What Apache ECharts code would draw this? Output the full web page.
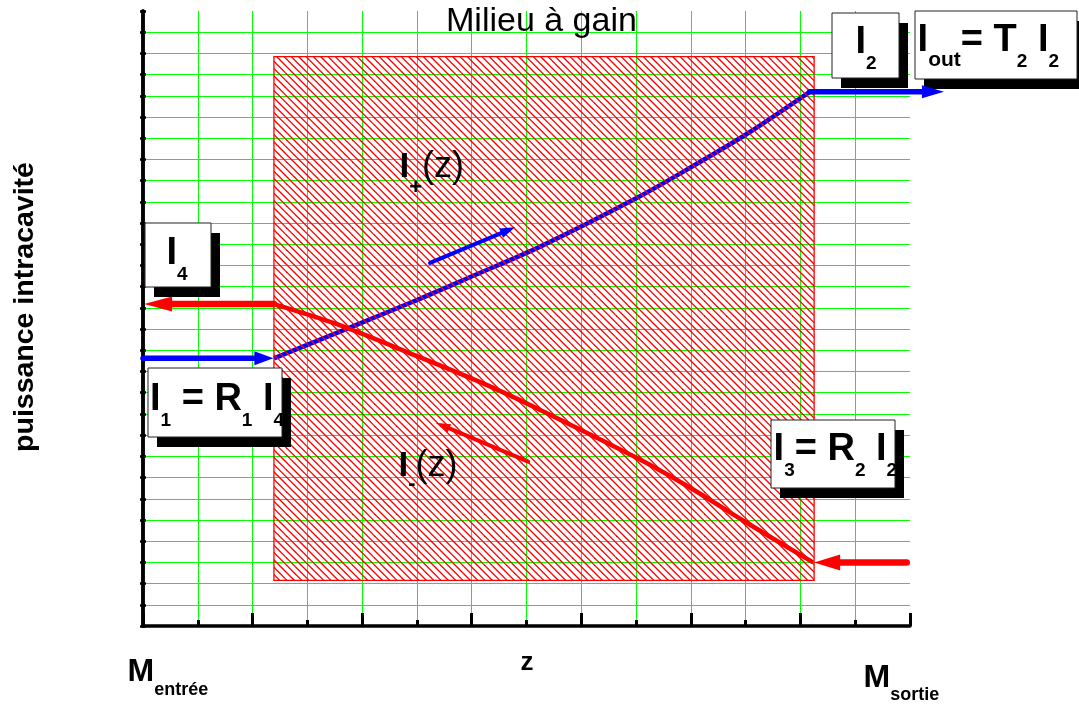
<!DOCTYPE html>
<html><head><meta charset="utf-8">
<script src="https://cdn.jsdelivr.net/npm/echarts@6.0.0/dist/echarts.min.js"></script>
<style>html,body{margin:0;padding:0;background:#fff}#c{width:1079px;height:704px}</style>
</head><body><div id="c"></div>
<script>
// ---------------- data ----------------
const zRange = [0, 14];
const pRange = [0, 29];
const gainZ = [2.39, 12.25];
const gainP = [2.15, 26.85];
const iPlusZ = [2.39, 4.87, 6.06, 7.25, 9.01, 9.98, 11.02, 12.17];
const iPlusP = [12.62, 15.23, 16.55, 17.89, 20.18, 21.60, 23.20, 25.19];
const iMinusZ = [2.39, 3.54, 4.93, 6.27, 7.25, 9.01, 9.98, 11.02, 12.23];
const iMinusP = [15.18, 14.23, 12.80, 11.37, 10.19, 7.93, 6.53, 4.87, 3.0];
// arrows: I1 in, Iout, I3 in, I4 out, small I+, small I-
const arrowStartZ = [0.0, 12.17, 13.94, 2.39, 5.24, 7.03];
const arrowStartP = [12.62, 25.19, 2.99, 15.18, 17.12, 7.75];
const arrowEndZ   = [2.38, 14.62, 12.25, 0.02, 6.79, 5.34];
const arrowEndP   = [12.62, 25.19, 2.99, 15.18, 18.80, 9.59];
const titleText = 'Milieu à gain';
const yTitle = 'puissance intracavité';
const xTitle = 'z';

// ---------------- styles ----------------
const BLUE = '#0000ff', RED = '#ff0000';
const arrowStyle = [
  {c: BLUE, w: 5.5, head: 19, half: 7},
  {c: BLUE, w: 5.5, head: 22, half: 6.5},
  {c: RED, w: 6.5, head: 26, half: 8},
  {c: RED, w: 6.5, head: 28, half: 7.5},
  {c: BLUE, w: 4, head: 15, half: 5},
  {c: RED, w: 4, head: 15, half: 4.5}
];
const FONT = "'Liberation Sans', Arial, sans-serif";
const mctx = document.createElement('canvas').getContext('2d');
function fontStr(size, bold) { return (bold ? 'bold ' : '') + size + 'px ' + FONT; }
function seq(x, base, parts, z) {
  const out = []; let cx = x;
  for (const [t, size, bold, dy] of parts) {
    const f = fontStr(size, bold);
    mctx.font = f;
    out.push({type: 'text', x: cx, y: base + dy - 0.35 * size, z: z || 12,
      style: {text: t, font: f, fill: '#000', align: 'left', verticalAlign: 'middle'}});
    cx += mctx.measureText(t).width;
  }
  return out;
}
function box(x, y, w, h) {
  return [
    {type: 'rect', z: 10, shape: {x: x + 9, y: y + 10, width: w, height: h}, style: {fill: '#000'}},
    {type: 'rect', z: 11, shape: {x: x, y: y, width: w, height: h}, style: {fill: '#fff', stroke: '#222', lineWidth: 1}}
  ];
}
const B = true, N = false, M = 38, S = 19, SD = 14.5;

function hatchCanvas() {
  const n = 22, c = document.createElement('canvas');
  c.width = n; c.height = n;
  const g = c.getContext('2d');
  g.strokeStyle = RED; g.lineWidth = 1.35;
  for (let k = -3; k <= 3; k++) {
    const o = k * n / 3;
    g.beginPath(); g.moveTo(-1, o - 1); g.lineTo(n + 1, o + n + 1); g.stroke();
  }
  return c;
}
const hatch = hatchCanvas();

const graphics = [].concat(
  seq(541 - 95, 34, [[titleText, 34, N, 0]]),
  box(145, 223, 66, 64),
  seq(166.5, 266.7, [['I', M, B, 0], ['4', S, B, SD]]),
  box(148, 368, 134, 69),
  seq(150, 413.3, [['I', M, B, 0], ['1', S, B, SD], [' = R', M, B, 0], ['1', S, B, SD], [' I', M, B, 0], ['4', S, B, SD]]),
  box(832, 13, 67, 65),
  seq(855.5, 55.5, [['I', M, B, 0], ['2', S, B, SD]]),
  box(915, 11, 162, 68),
  seq(917.6, 53.5, [['I', M, B, 0], ['out', S + 2, B, SD], ['= T', M, B, 0], ['2', S, B, SD], [' I', M, B, 0], ['2', S, B, SD]]),
  box(771, 420, 124, 68),
  seq(773.6, 463.3, [['I', M, B, 0], ['3', S, B, SD], ['= R', M, B, 0], ['2', S, B, SD], [' I', M, B, 0], ['2', S, B, SD]]),
  seq(399.5, 180, [['I', 35, B, 0], ['+', 22, B, 16], ['(z)', 36, N, 0]]),
  seq(398.5, 478.3, [['I', 35, B, 0], ['-', 22, B, 13], ['(z)', 36, N, 0]]),
  seq(127.5, 683.3, [['M', 32, B, 0], ['entrée', 18, B, 13.4]]),
  seq(863.5, 689.3, [['M', 32, B, 0], ['sortie', 18, B, 12.4]]),
  [{type: 'text', x: 527, y: 672 - 0.35 * 26, z: 12, style: {text: xTitle, font: fontStr(26, B), fill: '#000', align: 'center', verticalAlign: 'middle'}},
   {type: 'text', x: 25, y: 307, rotation: Math.PI / 2, z: 12, style: {text: yTitle, font: fontStr(28.5, B), fill: '#000', align: 'center', verticalAlign: 'middle'}}]
);

const GREEN = '#00ff00';
const option = {
  animation: false,
  backgroundColor: '#fff',
  grid: {left: 143, right: 169, top: 11, bottom: 78, containLabel: false},
  xAxis: [
    {type: 'value', min: zRange[0], max: zRange[1], interval: 1, position: 'bottom',
     axisLine: {lineStyle: {color: '#000', width: 3.5, cap: 'round'}},
     axisTick: {inside: true, length: 6, lineStyle: {color: '#000', width: 3}},
     axisLabel: {show: false},
     splitLine: {show: true, showMaxLine: false, lineStyle: {color: GREEN, width: 1}}},
    {type: 'value', min: zRange[0], max: zRange[1], interval: 2, position: 'bottom',
     axisLine: {show: false},
     axisTick: {inside: true, length: 13, lineStyle: {color: '#000', width: 3}},
     axisLabel: {show: false}, splitLine: {show: false}}
  ],
  yAxis: [
    {type: 'value', min: pRange[0], max: pRange[1], interval: 1, position: 'left',
     axisLine: {lineStyle: {color: '#000', width: 3.5, cap: 'round'}},
     axisTick: {inside: true, length: 3, lineStyle: {color: '#000', width: 2.5}},
     axisLabel: {show: false},
     splitLine: {show: true, showMaxLine: false, lineStyle: {color: GREEN, width: 1}}},
    {type: 'value', min: pRange[0], max: pRange[1], interval: 1, position: 'right',
     axisLine: {show: true, lineStyle: {color: '#000', width: 3.5, cap: 'round'}},
     axisTick: {show: true, inside: true, length: 3, lineStyle: {color: '#000', width: 2.5}},
     axisLabel: {show: false}, splitLine: {show: false}}
  ],
  series: [
    {type: 'line', name: 'I+', z: 2, data: iPlusZ.map((z, i) => [z, iPlusP[i]]),
     smooth: 0.3, showSymbol: false, symbol: 'none',
     lineStyle: {color: BLUE, width: 4.5}},
    {type: 'custom', name: 'gain', z: 3, clip: false,
     data: [[gainZ[0], gainP[0], gainZ[1], gainP[1]]],
     encode: {x: [0, 2], y: [1, 3]},
     renderItem: function (params, api) {
       const a = api.coord([api.value(0), api.value(3)]);
       const b = api.coord([api.value(2), api.value(1)]);
       return {type: 'rect', shape: {x: a[0], y: a[1], width: b[0] - a[0], height: b[1] - a[1]},
         style: {fill: {image: hatch, repeat: 'repeat'}, stroke: RED, lineWidth: 1.3}};
     }},
    {type: 'line', name: 'I-', z: 4, data: iMinusZ.map((z, i) => [z, iMinusP[i]]),
     smooth: 0.3, showSymbol: false, symbol: 'none',
     lineStyle: {color: RED, width: 4.5}},
    {type: 'custom', name: 'arrows', z: 20, clip: false,
     data: arrowStartZ.map((z, i) => [z, arrowStartP[i], arrowEndZ[i], arrowEndP[i]]),
     encode: {x: [0, 2], y: [1, 3]},
     renderItem: function (params, api) {
       const s = arrowStyle[params.dataIndex];
       const p1 = api.coord([api.value(0), api.value(1)]);
       const p2 = api.coord([api.value(2), api.value(3)]);
       const dx = p2[0] - p1[0], dy = p2[1] - p1[1], L = Math.hypot(dx, dy);
       const ux = dx / L, uy = dy / L, nx = -uy, ny = ux;
       const bx = p2[0] - ux * s.head, by = p2[1] - uy * s.head;
       return {type: 'group', children: [
         {type: 'line', shape: {x1: p1[0], y1: p1[1], x2: bx + ux * 2, y2: by + uy * 2},
          style: {stroke: s.c, lineWidth: s.w, lineCap: 'round'}},
         {type: 'polygon', shape: {points: [[p2[0], p2[1]], [bx + nx * s.half, by + ny * s.half], [bx - nx * s.half, by - ny * s.half]]},
          style: {fill: s.c}}
       ]};
     }}
  ],
  graphic: {elements: graphics}
};
const chart = echarts.init(document.getElementById('c'), null, {renderer: 'canvas'});
chart.setOption(option);
</script>
</body></html>
